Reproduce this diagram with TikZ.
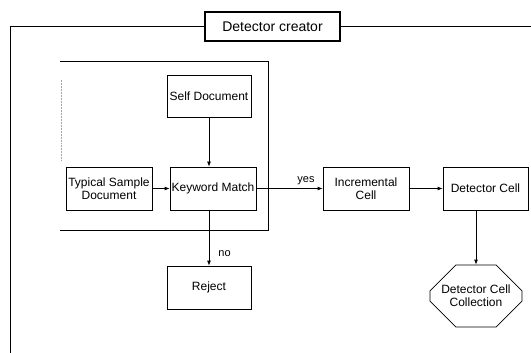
\documentclass[tikz,border=0pt]{standalone}
\usepackage{fontspec}
\setmainfont{Liberation Sans}
\usetikzlibrary{arrows.meta,shapes.misc}
\begin{document}
\begin{tikzpicture}[x=1pt,y=-1pt,
  line width=0.8pt,
  box/.style={draw,fill=white,inner sep=1pt,align=center,font=\fontsize{12}{13}\selectfont},
  arr/.style={-{Latex[length=5pt,width=4pt]}},
  lbl/.style={font=\fontsize{11}{12}\selectfont,inner sep=1pt}]
\useasboundingbox (0,0) rectangle (531,353);
% outer frame
\coordinate (otr) at (531,26);
\coordinate (obl) at (10,353);
\draw (otr) -| (obl);
\node[box,line width=1.1pt,minimum width=135pt,minimum height=29pt,font=\fontsize{14}{15}\selectfont] (title) at (272.5,26.5) {Detector creator};
% inner frame
\coordinate (itl) at (60,61);
\coordinate (itr) at (268,61);
\coordinate (ibr) at (268,230);
\coordinate (ibl) at (60,230);
\draw (itl) -- (itr) -- (ibr) -- (ibl);
\draw[densely dotted,gray!70,line width=0.5pt] (61,80) -- (61,160);
% boxes
\node[box,minimum width=84pt,minimum height=42pt] (self) at (209,96) {Self Document};
\node[box,minimum width=86pt,minimum height=43pt] (kw) at (213,188.5) {Keyword Match};
\node[box,minimum width=86pt,minimum height=43pt] (typ) at (109,188.5) {Typical Sample\\Document};
\node[box,minimum width=86pt,minimum height=43pt] (inc) at (366,188.5) {Incremental\\Cell};
\node[box,minimum width=85pt,minimum height=43pt] (det) at (485.5,188.5) {Detector Cell};
\node[box,minimum width=84pt,minimum height=43pt] (rej) at (209,287.5) {Reject};
\node[box,chamfered rectangle,chamfered rectangle xsep=15pt,chamfered rectangle ysep=15pt,minimum width=92pt,minimum height=62pt,inner sep=0pt] (coll) at (476,296) {Detector Cell\\Collection};
% connectors
\draw[arr] (self.south) -- (self.south |- kw.north);
\draw[arr] (typ.east) -- (kw.west);
\draw[arr] (kw.east) -- node[lbl,above,pos=0.75,yshift=2pt] {yes} (inc.west);
\draw[arr] (inc.east) -- (det.west);
\draw[arr] (kw.south -| rej.north) -- node[lbl,right,pos=0.78,xshift=8pt] {no} (rej.north);
\draw[arr] (det.south -| coll.north) -- (coll.north);
\end{tikzpicture}
\end{document}
